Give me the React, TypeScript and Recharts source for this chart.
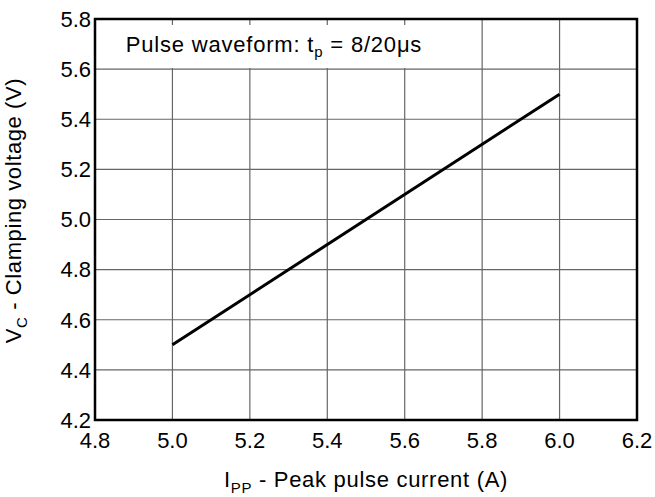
import { LineChart, Line, XAxis, YAxis, CartesianGrid, ReferenceArea, Label } from "recharts";

const currents = [5.0, 6.0];
const voltages = [4.5, 5.5];
const xTicks = [4.8, 5.0, 5.2, 5.4, 5.6, 5.8, 6.0, 6.2];
const yTicks = [4.2, 4.4, 4.6, 4.8, 5.0, 5.2, 5.4, 5.6, 5.8];
const legendText = "Pulse waveform: t";
const legendSub = "p";
const legendTail = " = 8/20\u03bcs";

const data = currents.map((c, i) => ({ ipp: c, vc: voltages[i] }));

const FONT = "'Liberation Sans', Arial, Helvetica, sans-serif";

export default function App() {
  return (
    <div style={{ position: "absolute", left: 0, top: 0, width: 655, height: 497, background: "#fff", fontFamily: FONT }}>
      <LineChart width={655} height={497} data={data} margin={{ top: 19, right: 18, left: 0, bottom: 0 }}>
        <CartesianGrid stroke="#666" strokeWidth={1.2} />
        <XAxis
          type="number"
          dataKey="ipp"
          domain={[4.8, 6.2]}
          ticks={xTicks}
          tickFormatter={(v: number) => v.toFixed(1)}
          height={77}
          axisLine={false}
          tickLine={false}
          tickSize={6}
          tickMargin={6}
          tick={{ fill: "#000", fontSize: 22, fontFamily: FONT }}
          interval={0}
        >
          <Label
            content={({ viewBox }: any) => (
              <text x={viewBox.x + viewBox.width / 2} y={viewBox.y + 67} textAnchor="middle" fontSize={22} letterSpacing={0.7} fontFamily={FONT} fill="#000">
                I<tspan dy={6} fontSize={15}>PP</tspan>
                <tspan dy={-6}> - Peak pulse current (A)</tspan>
              </text>
            )}
          />
        </XAxis>
        <YAxis
          type="number"
          domain={[4.2, 5.8]}
          ticks={yTicks}
          tickFormatter={(v: number) => v.toFixed(1)}
          width={95}
          axisLine={false}
          tickLine={false}
          tickSize={4}
          tickMargin={0}
          tick={{ fill: "#000", fontSize: 22, fontFamily: FONT }}
          interval={0}
        >
          <Label
            content={({ viewBox }: any) => {
              const cx = 21;
              const cy = viewBox.y + viewBox.height / 2 - 9;
              return (
                <text x={cx} y={cy} transform={`rotate(-90 ${cx} ${cy})`} textAnchor="middle" fontSize={22} letterSpacing={0.6} fontFamily={FONT} fill="#000">
                  V<tspan dy={6} fontSize={15}>C</tspan>
                  <tspan dy={-6}> - Clamping voltage (V)</tspan>
                </text>
              );
            }}
          />
        </YAxis>
        <Line type="linear" dataKey="vc" stroke="#000" strokeWidth={3} dot={false} isAnimationActive={false} />
        <ReferenceArea x1={4.8} x2={6.2} y1={4.2} y2={5.8} fill="none" stroke="#000" strokeWidth={2.5} />
      </LineChart>
      <div
        style={{
          position: "absolute",
          left: 105,
          top: 25,
          width: 338,
          height: 43,
          background: "#fff",
          display: "flex",
          alignItems: "center",
          justifyContent: "center",
          fontSize: 22,
          letterSpacing: 0.8,
          color: "#000",
          whiteSpace: "nowrap",
        }}
      >
        <span>
          {legendText}
          <sub style={{ fontSize: 15 }}>{legendSub}</sub>
          {legendTail}
        </span>
      </div>
    </div>
  );
}
